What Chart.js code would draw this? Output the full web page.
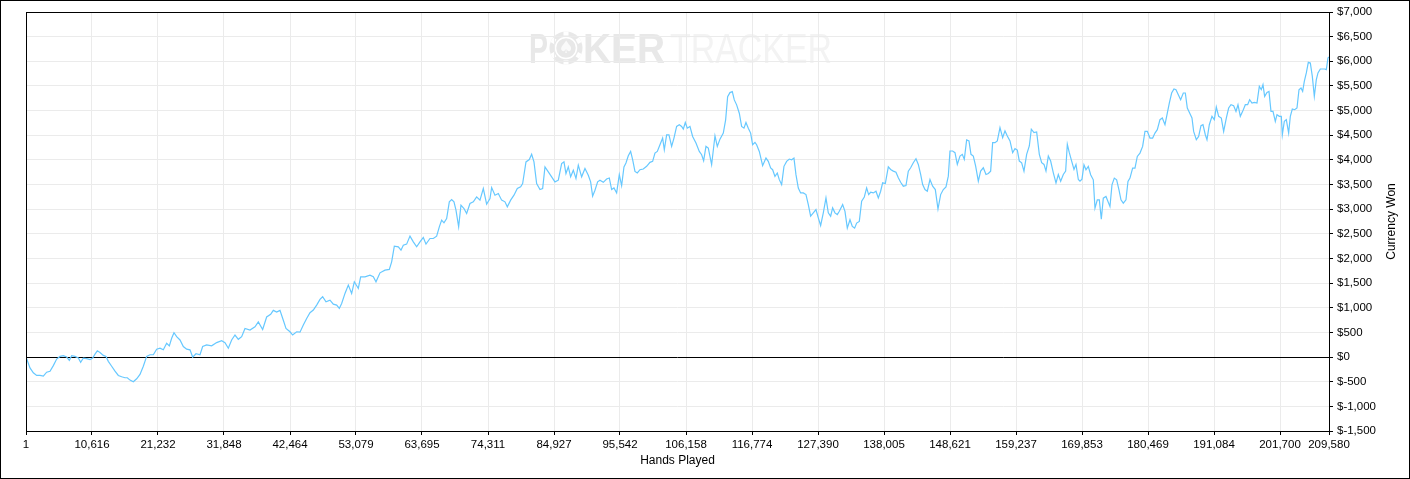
<!DOCTYPE html>
<html>
<head>
<meta charset="utf-8">
<script src="https://cdn.jsdelivr.net/npm/chart.js@4/dist/chart.umd.min.js"></script>
<style>
  body { margin: 0; background: #fff; }
  canvas { display: block; }
</style>
</head>
<body>
<canvas id="chart" width="1410" height="479"></canvas>
<script>
// hands played (x) and currency won (y)
const hands = [
  1, 643, 1179, 1716, 2252, 2788, 3324, 3860, 4396, 4932, 5469, 6005, 6541, 6970, 7345, 7881, 8417, 8793, 9221, 9758,
  10294, 10723, 11098, 11473, 11902, 12438, 12867, 13242, 13779, 14315, 14851, 15387, 15923, 16299, 16727, 17264, 17800, 18336, 18872, 19408,
  19944, 20480, 21017, 21553, 22089, 22625, 23054, 23429, 23804, 24233, 24769, 25305, 25842, 26378, 26807, 27343, 27986, 28415, 29058, 29862,
  30667, 31471, 32007, 32543, 33079, 33616, 34152, 34688, 35224, 36028, 36832, 37368, 38065, 38709, 39352, 39781, 40317, 40853, 41389, 41818,
  42462, 42891, 43534, 44070, 44606, 45142, 45679, 46215, 46751, 47287, 47716, 48252, 48896, 49432, 49968, 50397, 50772, 51308, 51844, 52380,
  52809, 53452, 53828, 54525, 55329, 55865, 56294, 56937, 57741, 58438, 58814, 59243, 59886, 60315, 60690, 61226, 61762, 62298, 62834, 63370,
  63907, 64336, 64979, 65515, 66051, 66480, 66855, 67230, 67659, 68088, 68463, 68838, 69160, 69589, 69964, 70447, 70875, 71412, 71948, 72484,
  73020, 73556, 74092, 74628, 74897, 75433, 75969, 76505, 77041, 77417, 77953, 78489, 79025, 79561, 79883, 80419, 80955, 81330, 81705, 82134,
  82670, 83099, 83474, 84010, 84546, 85082, 85618, 86154, 86530, 86851, 87227, 87602, 88031, 88460, 88835, 89371, 89907, 90443, 90819, 91140,
  91516, 91945, 92320, 92856, 93392, 93821, 94197, 94572, 95001, 95430, 95805, 96180, 96502, 96877, 97252, 97574, 97950, 98325, 98754, 99290,
  99826, 100362, 100791, 101167, 101542, 101971, 102400, 102668, 103043, 103418, 103847, 104222, 104651, 105080, 105455, 105724, 106045, 106367, 106796, 107225,
  107761, 108297, 108673, 108994, 109370, 109745, 110281, 110817, 111192, 111621, 112157, 112533, 112854, 113230, 113605, 113927, 114302, 114731, 115106, 115482,
  115803, 116178, 116554, 116875, 117250, 117519, 117948, 118484, 119020, 119395, 119771, 120092, 120467, 120843, 121164, 121540, 121915, 122344, 122773, 123148,
  123523, 123845, 124220, 124596, 125025, 125454, 125829, 126204, 126633, 127062, 127438, 127813, 128242, 128671, 129046, 129422, 129743, 130119, 130494, 130816,
  131353, 131728, 132103, 132532, 132908, 133283, 133605, 134033, 134409, 134838, 135213, 135535, 135856, 136285, 136714, 137090, 137465, 137787, 138216, 138698,
  139073, 139502, 139931, 140307, 140682, 141111, 141540, 141915, 142290, 142719, 143148, 143524, 143899, 144221, 144596, 144971, 145400, 145829, 146258, 146687,
  147116, 147545, 147974, 148349, 148617, 149046, 149421, 149797, 150226, 150601, 150923, 151298, 151673, 151995, 152370, 152746, 153175, 153550, 153979, 154408,
  154783, 155159, 155480, 155855, 156231, 156660, 157089, 157464, 157839, 158268, 158697, 159073, 159448, 159770, 160145, 160520, 160949, 161378, 161700, 162129,
  162558, 162987, 163362, 163738, 164059, 164434, 164810, 165239, 165668, 166043, 166418, 166847, 167223, 167491, 167812, 168188, 168563, 168885, 169260, 169528,
  169847, 170169, 170491, 170866, 171241, 171670, 171938, 172313, 172635, 172957, 173278, 173707, 174029, 174351, 174672, 175048, 175423, 175798, 176120, 176495,
  176924, 177246, 177568, 177997, 178372, 178747, 179176, 179605, 179980, 180356, 180785, 181214, 181589, 181964, 182393, 182769, 183198, 183573, 183895, 184270,
  184645, 184967, 185342, 185718, 186147, 186469, 186790, 187166, 187541, 187809, 188238, 188613, 188989, 189310, 189686, 189954, 190329, 190758, 191133, 191455,
  191831, 192260, 192635, 193064, 193439, 193815, 194244, 194619, 194941, 195316, 195692, 196121, 196496, 196818, 197193, 197568, 197997, 198373, 198694, 198962,
  199230, 199606, 199927, 200249, 200571, 200946, 201214, 201589, 201911, 202072, 202393, 202715, 203090, 203358, 203680, 204055, 204431, 204752, 205074, 205342,
  205610, 205932, 206253, 206575, 206897, 207218, 207540, 207808, 208183, 208559, 208880, 209148, 209416, 209580
];
const won = [
  0, -220, -320, -373, -373, -387, -307, -287, -173, -40, 13, 27, 0, -67, 27, 13, -20, -107, -20, -33,
  -53, -20, 60, 127, 93, 33, 13, -87, -187, -287, -373, -400, -420, -420, -467, -500, -440, -353, -187, 13,
  47, 47, 160, 180, 147, 280, 227, 380, 493, 413, 347, 213, 160, 147, 0, 67, 47, 213, 247, 227,
  293, 333, 293, 180, 347, 447, 360, 413, 580, 547, 613, 713, 560, 813, 867, 947, 913, 947, 747, 580,
  513, 447, 513, 505, 649, 784, 899, 953, 1054, 1169, 1223, 1122, 1155, 1074, 1054, 987, 1088, 1291, 1460, 1291,
  1527, 1392, 1628, 1628, 1662, 1628, 1527, 1709, 1764, 1777, 1932, 2250, 2237, 2169, 2270, 2291, 2453, 2338, 2237, 2338,
  2426, 2291, 2405, 2405, 2453, 2642, 2777, 2723, 2811, 3149, 3196, 3149, 2980, 2642, 3081, 3014, 2912, 3115, 3149, 3250,
  3183, 3419, 3101, 3216, 3439, 3284, 3318, 3183, 3149, 3047, 3183, 3284, 3419, 3453, 3520, 3959, 4007, 4115, 3959, 3520,
  3399, 3419, 3858, 3757, 3656, 3554, 3588, 3926, 3959, 3723, 3858, 3656, 3791, 3622, 3892, 3656, 3825, 3689, 3554, 3264,
  3385, 3554, 3588, 3545, 3612, 3633, 3397, 3430, 3329, 3700, 3478, 3855, 3936, 4084, 4172, 4003, 3767, 3734, 3801, 3815,
  3869, 3950, 3970, 4138, 4172, 4307, 4442, 4206, 4509, 4509, 4273, 4442, 4678, 4711, 4678, 4624, 4759, 4644, 4678, 4475,
  4341, 4172, 4105, 3983, 4273, 4239, 3902, 4489, 4273, 4421, 4543, 4813, 5284, 5365, 5385, 5217, 5116, 4947, 4678, 4644,
  4759, 4644, 4543, 4307, 4354, 4307, 4172, 3882, 4037, 3970, 3835, 3801, 3666, 3734, 3599, 3498, 3869, 3970, 4017, 4003,
  4037, 3700, 3430, 3329, 3329, 3296, 3093, 2857, 2925, 2992, 2824, 2669, 2925, 3228, 2925, 2857, 3026, 2925, 2891, 2958,
  3092, 2956, 2616, 2786, 2650, 2616, 2718, 2752, 3160, 3248, 3432, 3296, 3343, 3330, 3364, 3228, 3364, 3534, 3520, 3860,
  3806, 3772, 3751, 3636, 3547, 3466, 3479, 3772, 3840, 3942, 4023, 3908, 3704, 3500, 3398, 3364, 3602, 3466, 3398, 3003,
  3296, 3398, 3452, 3670, 4180, 4180, 4146, 3908, 4078, 4112, 4010, 4404, 4384, 4112, 4078, 3874, 3568, 3772, 3840, 3704,
  3724, 3772, 4350, 4350, 4384, 4656, 4452, 4588, 4486, 4384, 4146, 4228, 4200, 3976, 3942, 3772, 4112, 4282, 4622, 4554,
  4568, 4112, 3942, 3908, 3772, 4078, 3976, 3738, 3534, 3704, 3568, 3704, 3772, 4316, 4146, 3976, 3806, 3908, 3602, 3568,
  3609, 3901, 3799, 3867, 3698, 3596, 3020, 3190, 3190, 2797, 3223, 3257, 3156, 3054, 3494, 3630, 3596, 3393, 3190, 3122,
  3190, 3562, 3630, 3833, 3833, 4070, 4138, 4273, 4578, 4578, 4442, 4442, 4544, 4612, 4815, 4849, 4713, 4950, 5153, 5357,
  5438, 5424, 5323, 5221, 5357, 5357, 5052, 4950, 4849, 4578, 4409, 4476, 4693, 4713, 4510, 4409, 4713, 4883, 4815, 5072,
  4883, 4849, 4578, 4849, 5052, 5119, 5099, 4984, 5119, 4883, 4984, 5119, 5119, 5221, 5153, 5167, 5153, 5492, 5424, 5526,
  5289, 5370, 5390, 4984, 4984, 4781, 4916, 4883, 4883, 4510, 4781, 4815, 4544, 4883, 5032, 5018, 5052, 5424, 5458, 5390,
  5594, 5763, 5980, 5966, 5695, 5289, 5628, 5763, 5844, 5844, 5844, 5831, 6068, 6088
];

const xTicks = [1, 10616, 21232, 31848, 42464, 53079, 63695, 74311, 84927, 95542, 106158,
  116774, 127390, 138005, 148621, 159237, 169853, 180469, 191084, 201700, 209580];
const yMin = -1500, yMax = 7000, yStep = 500;

const FONT = '"Liberation Sans", Arial, sans-serif';
const ctx = document.getElementById('chart').getContext('2d');

const points = hands.map((h, i) => ({ x: h, y: won[i] }));

const decor = {
  id: 'decor',
  beforeDraw(chart) {
    const c = chart.ctx;
    c.save();
    c.fillStyle = '#fff';
    c.fillRect(0, 0, chart.width, chart.height);

    // faint POKERTRACKER logo
    const fit = (txt, font, color, x0, x1, base) => {
      c.font = font;
      const w = c.measureText(txt).width;
      c.save();
      c.translate(x0, base);
      c.scale((x1 - x0) / w, 1);
      c.fillStyle = color;
      c.textBaseline = 'alphabetic';
      c.fillText(txt, 0, 0);
      c.restore();
    };
    fit('P', 'bold 42px ' + FONT, '#e8e8e8', 529, 548, 63);
    fit('KER', 'bold 42px ' + FONT, '#e8e8e8', 583, 665, 63);
    fit('TRACKER', '42px ' + FONT, '#f3f3f3', 670, 832, 63);
    // chip in place of the O
    const cx = 566, cy = 48;
    c.fillStyle = '#e8e8e8';
    c.beginPath(); c.arc(cx, cy, 16.5, 0, Math.PI * 2); c.fill();
    c.fillStyle = '#fff';
    for (let k = 0; k < 6; k++) {
      const a = k * Math.PI / 3 + Math.PI / 6;
      c.save();
      c.translate(cx + Math.cos(a) * 14.5, cy + Math.sin(a) * 14.5);
      c.rotate(a);
      c.fillRect(-2, -2.5, 4, 5);
      c.restore();
    }
    c.strokeStyle = '#fff';
    c.lineWidth = 1.5;
    c.beginPath(); c.arc(cx, cy, 10.5, 0, Math.PI * 2); c.stroke();
    c.fillStyle = '#fafafa';
    c.font = '17px "DejaVu Sans"';
    c.textAlign = 'center';
    c.textBaseline = 'middle';
    c.fillText('\u2660', cx, cy + 1);
    c.restore();
  },
  afterDraw(chart) {
    const c = chart.ctx, a = chart.chartArea;
    c.save();
    c.strokeStyle = '#000';
    c.lineWidth = 1;
    c.strokeRect(Math.round(a.left) + 0.5, Math.round(a.top) + 0.5,
      Math.round(a.right - a.left), Math.round(a.bottom - a.top));
    c.strokeRect(0.5, 0.5, chart.width - 1, chart.height - 1);
    // right axis title, reading upwards
    c.translate(1392, (a.top + a.bottom) / 2);
    c.rotate(-Math.PI / 2);
    c.font = '12px ' + FONT;
    c.fillStyle = '#000';
    c.textAlign = 'center';
    c.textBaseline = 'middle';
    c.fillText('Currency Won', 0, 0);
    c.restore();
  }
};

new Chart(ctx, {
  type: 'line',
  data: {
    datasets: [{
      data: points,
      borderColor: '#66c8ff',
      borderWidth: 1.2,
      pointRadius: 0,
      tension: 0,
      fill: false
    }]
  },
  options: {
    responsive: false,
    animation: false,
    devicePixelRatio: 1,
    layout: { padding: { left: 26, top: 12, right: 0, bottom: 0 } },
    plugins: { legend: { display: false }, tooltip: { enabled: false } },
    scales: {
      x: {
        type: 'linear',
        min: 1,
        max: 209580,
        afterBuildTicks: s => { s.ticks = xTicks.map(v => ({ value: v })); },
        afterFit: s => { s.height = 48; },
        ticks: {
          autoSkip: false,
          maxRotation: 0,
          padding: 3,
          color: '#000',
          font: { family: FONT, size: 11.5 },
          callback: v => v.toLocaleString('en-US')
        },
        grid: { color: '#ebebeb', tickColor: '#000', tickLength: 4 },
        border: { color: '#000' },
        title: {
          display: true,
          text: 'Hands Played',
          color: '#000',
          font: { family: FONT, size: 12 },
          padding: { top: 0, bottom: 11 }
        }
      },
      y: {
        position: 'right',
        min: yMin,
        max: yMax,
        afterFit: s => { s.width = 81; },
        ticks: {
          stepSize: yStep,
          padding: 4,
          color: '#000',
          font: { family: FONT, size: 11.5 },
          callback: v => '$' + v.toLocaleString('en-US')
        },
        grid: {
          color: c => (c.tick && c.tick.value === 0) ? '#000' : '#ebebeb',
          tickColor: '#000',
          tickLength: 4
        },
        border: { color: '#000' }
      }
    }
  },
  plugins: [decor]
});
</script>
</body>
</html>
